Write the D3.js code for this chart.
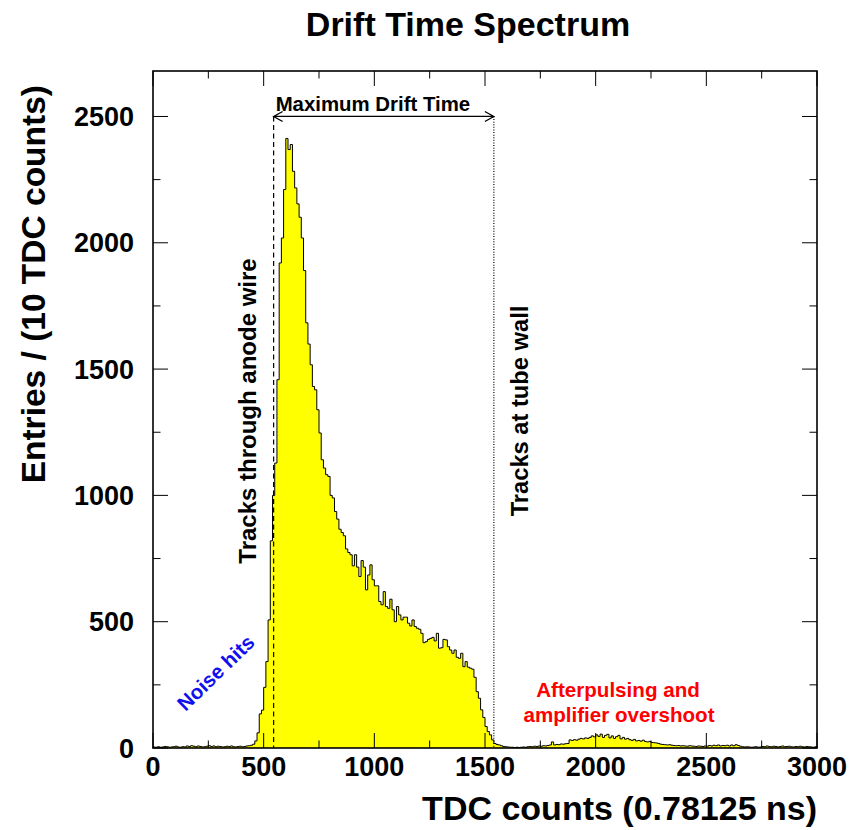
<!DOCTYPE html>
<html>
<head>
<meta charset="utf-8">
<script src="https://cdn.jsdelivr.net/npm/d3@7"></script>
<style>
  html, body { margin: 0; padding: 0; background: #fff; }
  svg text { font-family: "Liberation Sans", Arial, Helvetica, sans-serif; font-weight: bold; }
</style>
</head>
<body>
<svg id="chart" width="850" height="830"></svg>
<script>
// Histogram: entries per 10 TDC counts, 300 bins from 0 to 3000
const binStart = 0;
const binWidth = 10;
const counts = [
  4,3,5,3,4,6,5,3,4,5,
  7,4,3,5,4,8,6,9,7,5,
  8,6,4,5,7,9,6,8,5,7,
  6,4,5,7,6,8,5,4,6,7,
  5,6,8,9,11,15,28,60,135,150,
  240,342,507,820,1000,1128,1458,1920,2019,2211,
  2413,2369,2389,2283,2217,2154,2101,2019,1890,1683,
  1599,1517,1431,1418,1339,1247,1141,1108,1082,1075,
  1000,990,936,906,866,853,840,788,774,765,
  721,765,716,679,742,716,626,685,725,666,
  642,642,580,567,619,560,553,589,547,500,
  560,527,507,518,518,494,483,507,481,474,
  470,454,417,421,430,434,438,424,454,395,
  397,430,428,401,388,375,388,359,355,375,
  322,342,320,316,312,280,223,197,151,121,
  85,65,52,32,18,14,12,9,6,5,
  4,3,3,2,3,2,3,4,3,5,
  6,5,7,6,8,7,9,8,10,12,
  24,12,14,13,16,15,17,18,32,30,
  33,31,35,38,36,40,38,42,48,44,
  52,46,55,42,50,54,40,48,38,45,
  50,36,42,35,38,33,30,34,28,30,
  27,31,26,24,26,22,21,20,18,15,
  14,13,12,13,11,10,9,10,8,9,
  8,7,9,8,7,6,8,7,6,8,
  7,10,8,11,9,12,8,10,9,11,
  8,12,9,13,10,7,5,4,5,4,
  3,4,5,3,4,6,5,8,6,5,
  7,6,4,6,8,5,6,7,5,4,
  6,5,7,5,4,6,5,4,3,5
];

const xDomain = [0, 3000];
const yDomain = [0, 2680];
const xMajorTicks = [0, 500, 1000, 1500, 2000, 2500, 3000];
const xMinorTicks = [250, 750, 1250, 1750, 2250, 2750];
const yMajorTicks = [0, 500, 1000, 1500, 2000, 2500];
const yMinorTicks = [250, 750, 1250, 1750, 2250];

// Marker positions (TDC counts) for drift-time window
const anodeEdge = 545;
const wallEdge = 1540;
const windowTop = 2500; // arrow height in entries

const titleText = "Drift Time Spectrum";
const xLabel = "TDC counts (0.78125 ns)";
const yLabel = "Entries / (10 TDC counts)";

const frame = { left: 153, right: 817, top: 71, bottom: 748 };

const svg = d3.select("#chart");
const x = d3.scaleLinear().domain(xDomain).range([frame.left, frame.right]);
const y = d3.scaleLinear().domain(yDomain).range([frame.bottom, frame.top]);

// Histogram bins as [lo, hi, value]
const bins = counts.map((v, i) => ({ lo: binStart + i * binWidth, hi: binStart + (i + 1) * binWidth, v }));

const stepPts = [];
stepPts.push([bins[0].lo, 0]);
bins.forEach(b => { stepPts.push([b.lo, b.v]); stepPts.push([b.hi, b.v]); });
stepPts.push([bins[bins.length - 1].hi, 0]);

const area = d3.area().x(d => x(d[0])).y0(y(0)).y1(d => y(d[1]));
const line = d3.line().x(d => x(d[0])).y(d => y(d[1]));

svg.append("path").datum(stepPts).attr("d", area).attr("fill", "#ffff00").attr("stroke", "none");
svg.append("path").datum(stepPts).attr("d", line).attr("fill", "none").attr("stroke", "#000").attr("stroke-width", 1);

// Ticks on all four sides, pointing inward
const tickG = svg.append("g").attr("stroke", "#000").attr("stroke-width", 1);
const majorLen = 15, minorLen = 7.5;
function xTicks(vals, len) {
  vals.forEach(v => {
    tickG.append("line").attr("x1", x(v)).attr("x2", x(v)).attr("y1", frame.bottom).attr("y2", frame.bottom - len);
    tickG.append("line").attr("x1", x(v)).attr("x2", x(v)).attr("y1", frame.top).attr("y2", frame.top + len);
  });
}
function yTicks(vals, len) {
  vals.forEach(v => {
    tickG.append("line").attr("y1", y(v)).attr("y2", y(v)).attr("x1", frame.left).attr("x2", frame.left + len);
    tickG.append("line").attr("y1", y(v)).attr("y2", y(v)).attr("x1", frame.right).attr("x2", frame.right - len);
  });
}
xTicks(xMajorTicks, majorLen);
xTicks(xMinorTicks, minorLen);
yTicks(yMajorTicks, majorLen);
yTicks(yMinorTicks, minorLen);

// Frame
svg.append("rect")
  .attr("x", frame.left).attr("y", frame.top)
  .attr("width", frame.right - frame.left).attr("height", frame.bottom - frame.top)
  .attr("fill", "none").attr("stroke", "#000").attr("stroke-width", 1.6);

// Tick labels
svg.append("g").selectAll("text").data(xMajorTicks).join("text")
  .attr("x", d => x(d)).attr("y", 776)
  .attr("text-anchor", "middle").attr("font-size", 27)
  .text(d => d);
svg.append("g").selectAll("text").data(yMajorTicks).join("text")
  .attr("x", 134).attr("y", d => y(d) + 9.5)
  .attr("text-anchor", "end").attr("font-size", 27)
  .text(d => d);

// Title and axis titles
svg.append("text").attr("x", 468).attr("y", 36).attr("text-anchor", "middle")
  .attr("font-size", 34).text(titleText);
svg.append("text").attr("x", frame.right).attr("y", 820).attr("text-anchor", "end")
  .attr("font-size", 34).text(xLabel);
svg.append("text").attr("transform", "translate(45,85) rotate(-90)").attr("text-anchor", "end")
  .attr("font-size", 33.5).text(yLabel);

// Drift-time window markers
svg.append("line")
  .attr("x1", x(anodeEdge)).attr("x2", x(anodeEdge)).attr("y1", y(windowTop)).attr("y2", frame.bottom)
  .attr("stroke", "#000").attr("stroke-width", 1.2).attr("stroke-dasharray", "5,3.5");
svg.append("line")
  .attr("x1", x(wallEdge)).attr("x2", x(wallEdge)).attr("y1", y(windowTop)).attr("y2", frame.bottom)
  .attr("stroke", "#000").attr("stroke-width", 1.2).attr("stroke-dasharray", "1,1.6");

// Double-headed arrow
const ax1 = x(anodeEdge), ax2 = x(wallEdge), ay = y(windowTop);
const arrow = d3.path();
arrow.moveTo(ax1, ay); arrow.lineTo(ax2, ay);
arrow.moveTo(ax1 + 9, ay - 5); arrow.lineTo(ax1, ay); arrow.lineTo(ax1 + 9, ay + 5);
arrow.moveTo(ax2 - 9, ay - 5); arrow.lineTo(ax2, ay); arrow.lineTo(ax2 - 9, ay + 5);
svg.append("path").attr("d", arrow.toString()).attr("fill", "none").attr("stroke", "#000").attr("stroke-width", 1.3);

svg.append("text").attr("x", ax1 + 2).attr("y", ay - 5).attr("font-size", 20.4).text("Maximum Drift Time");

// Annotations
svg.append("text").attr("transform", `translate(256,${411}) rotate(-90)`).attr("text-anchor", "middle")
  .attr("font-size", 24).text("Tracks through anode wire");
svg.append("text").attr("transform", `translate(528,${411}) rotate(-90)`).attr("text-anchor", "middle")
  .attr("font-size", 23.7).text("Tracks at tube wall");
svg.append("text").attr("transform", "translate(217,674) rotate(-44)").attr("text-anchor", "middle")
  .attr("dominant-baseline", "middle").attr("fill", "#1010ee")
  .attr("font-size", 20.5).text("Noise hits");
svg.append("text").attr("x", 618).attr("y", 697).attr("text-anchor", "middle")
  .attr("fill", "#ff0000").attr("font-size", 20.6).text("Afterpulsing and");
svg.append("text").attr("x", 619).attr("y", 722).attr("text-anchor", "middle")
  .attr("fill", "#ff0000").attr("font-size", 20.6).text("amplifier overshoot");
</script>
</body>
</html>
